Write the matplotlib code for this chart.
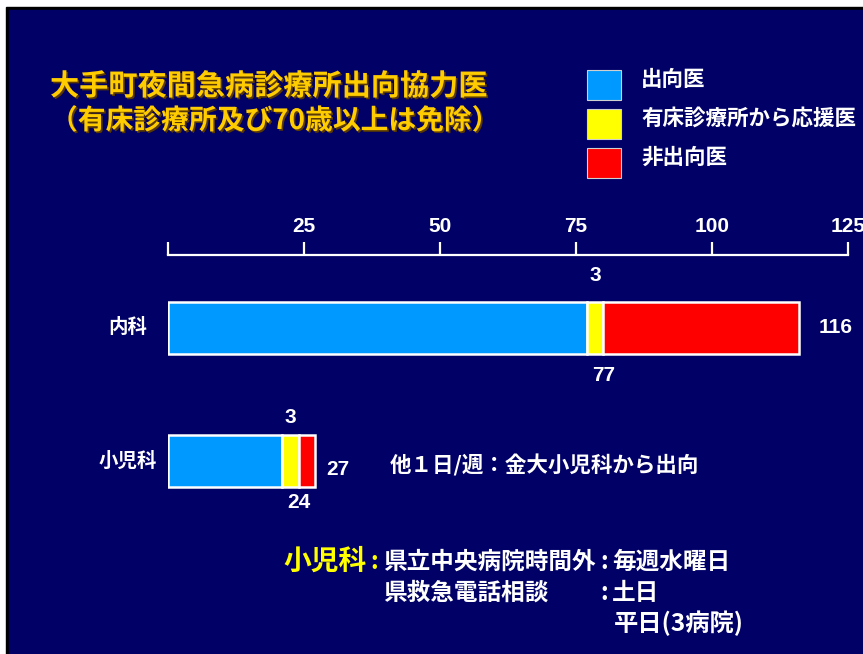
import matplotlib
matplotlib.use("Agg")
import matplotlib.pyplot as plt
import matplotlib.patheffects as pe
from matplotlib.patches import Rectangle

plt.rcParams['font.family'] = ['Noto Sans CJK JP', 'DejaVu Sans']

# ---- data -------------------------------------------------------------
departments = ["内科", "小児科"]
dispatched = [77, 21]          # 出向医
clinic_support = [3, 3]        # 有床診療所から応援医
not_dispatched = [36, 3]       # 非出向医
lower_values = [77, 24]        # counts printed under each bar
tick_values = [0, 25, 50, 75, 100, 125]
tick_labels = ["", "25", "50", "75", "100", "125"]
series_names = ["出向医", "有床診療所から応援医", "非出向医"]
series_colors = ["#0099FF", "#FFFF00", "#FF0000"]

title_lines = ["大手町夜間急病診療所出向協力医", "（有床診療所及び70歳以上は免除）"]
note_text = "他１日/週：金大小児科から出向"

# ---- figure -----------------------------------------------------------
W, H = 863, 654
BG = "#000066"
fig = plt.figure(figsize=(W / 100, H / 100), dpi=100)
fig.patch.set_facecolor("white")


def fx(px):
    return px / W


def fy(py):
    return 1 - py / H


# slide frame: thin dark edge then navy panel
fig.patches.append(Rectangle((fx(6), 0), 1 - fx(6), fy(7),
                             transform=fig.transFigure, color="black", zorder=-20))
fig.patches.append(Rectangle((fx(9), 0), 1 - fx(9), fy(10),
                             transform=fig.transFigure, color=BG, zorder=-19))

# axes: x in counts, y in category slots (row spacing 133 px)
x0_px, x1_px = 168, 848
row0_px, row_step = 328, 133
ax = fig.add_axes([fx(x0_px), 0, (x1_px - x0_px) / W, 1])
ax.set_xlim(0, 125)
ax.set_ylim((H - row0_px) / row_step, -row0_px / row_step)
ax.patch.set_alpha(0)
for side in ("left", "right", "bottom"):
    ax.spines[side].set_visible(False)
ax.spines["top"].set_position(("data", (255 - row0_px) / row_step))
ax.spines["top"].set_bounds(0, 125)
ax.spines["top"].set_color("white")
ax.spines["top"].set_linewidth(1.6)
ax.xaxis.set_ticks_position("top")
ax.set_xticks(tick_values)
ax.set_xticklabels(tick_labels, fontfamily="Liberation Sans", fontweight="bold")
ax.tick_params(axis="x", direction="out", length=9.5, width=1.6, colors="white",
               labelsize=15, pad=4)
ax.set_yticks([])

ypos = list(range(len(departments)))
bar_h = 52 / row_step
left2 = [a + b for a, b in zip(dispatched, clinic_support)]
totals = [a + b + c for a, b, c in zip(dispatched, clinic_support, not_dispatched)]
ax.barh(ypos, dispatched, height=bar_h, color=series_colors[0],
        edgecolor="white", linewidth=1.8)
ax.barh(ypos, clinic_support, left=dispatched, height=bar_h,
        color=series_colors[1], edgecolor="white", linewidth=1.8)
ax.barh(ypos, not_dispatched, left=left2, height=bar_h,
        color=series_colors[2], edgecolor="white", linewidth=1.8)

num_font = dict(fontfamily="Liberation Sans", fontweight="bold",
                color="white", fontsize=15)
above_off = [-38, -31]
below_off = [34, 30]
right_off = [(14, 0), (8, -6)]
for i, y in enumerate(ypos):
    # department name
    ax.annotate(departments[i], (0, y), xytext=(-29, 0), textcoords="offset points",
                ha="center", va="center", color="white", fontsize=14,
                fontweight="bold")
    # support count above the yellow segment
    ax.annotate(str(clinic_support[i]), (dispatched[i] + clinic_support[i] / 2, y),
                xytext=(0, -above_off[i]), textcoords="offset points",
                ha="center", va="center", **num_font)
    # count under the bar
    ax.annotate(str(lower_values[i]), (left2[i], y),
                xytext=(0, -below_off[i]), textcoords="offset points",
                ha="center", va="center", **num_font)
    # total at the right end
    ax.annotate(str(totals[i]), (totals[i], y), xytext=right_off[i],
                textcoords="offset points", ha="left", va="center", **num_font)

# ---- title ------------------------------------------------------------
shadow = [pe.SimplePatchShadow(offset=(1.2, -1.2), shadow_rgbFace="#5a3a00", alpha=1),
          pe.Normal()]
for line, py, fs in zip(title_lines, (86, 121), (21, 20)):
    fig.text(fx(50), fy(py), line, ha="left", va="center", color="#FFCC00",
             fontsize=fs, fontweight="bold", path_effects=shadow)

# ---- legend -----------------------------------------------------------
for name, col, top in zip(series_names, series_colors, (70, 109, 148)):
    fig.patches.append(Rectangle((fx(587), fy(top + 30)), 34 / W, 30 / H,
                                 transform=fig.transFigure, facecolor=col,
                                 edgecolor="#d0d0d0", linewidth=0.8))
    fig.text(fx(641), fy(top + 9), name, ha="left", va="center", color="white",
             fontsize=15.5, fontweight="bold")

# ---- notes ------------------------------------------------------------
fig.text(fx(390), fy(465), note_text, ha="left", va="center", color="white",
         fontsize=15.5, fontweight="bold")

fig.text(fx(283), fy(562), "小児科", ha="left", va="center", color="#FFFF00",
         fontsize=20, fontweight="bold")
fig.text(fx(374), fy(562), ":", ha="center", va="center", color="#FFFF00",
         fontsize=17, fontweight="bold")
fig.text(fx(383), fy(562), "県立中央病院時間外", ha="left", va="center",
         color="white", fontsize=17, fontweight="bold")
fig.text(fx(604), fy(562), ":", ha="center", va="center", color="white",
         fontsize=17, fontweight="bold")
fig.text(fx(612), fy(562), "毎週水曜日", ha="left", va="center", color="white",
         fontsize=17, fontweight="bold")
fig.text(fx(383), fy(593), "県救急電話相談", ha="left", va="center",
         color="white", fontsize=17, fontweight="bold")
fig.text(fx(604), fy(593), ":", ha="center", va="center", color="white",
         fontsize=17, fontweight="bold")
fig.text(fx(612), fy(593), "土日", ha="left", va="center", color="white",
         fontsize=17, fontweight="bold")
fig.text(fx(614), fy(623), "平日(3病院)", ha="left", va="center", color="white",
         fontsize=17.5, fontweight="bold")

fig.savefig("out.png", dpi=100, facecolor=fig.get_facecolor())
